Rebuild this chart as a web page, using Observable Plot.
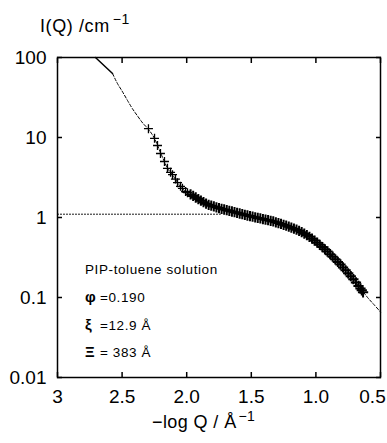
<!DOCTYPE html>
<html><head><meta charset="utf-8">
<script src="https://cdn.jsdelivr.net/npm/d3@7"></script>
<script src="https://cdn.jsdelivr.net/npm/@observablehq/plot@0.6"></script>
<style>
body{margin:0;background:#fff;}
#chart svg{font-family:"Liberation Sans",Arial,sans-serif;}
</style>
</head><body><div id="chart"></div>
<script>
// Axis ticks
const xTicks = [3, 2.5, 2.0, 1.5, 1.0, 0.5];
const xTickLabels = ["3", "2.5", "2.0", "1.5", "1.0", "0.5"];
const yTicks = [100, 10, 1, 0.1, 0.01];
const yTickLabels = ["100", "10", "1", "0.1", "0.01"];

// Fitted curve: solid part (low Q) then dashed part (x = -log Q, logI = log10 I)
const solidX = [2.706, 2.64, 2.574];
const solidLogI = [2.0, 1.90, 1.80];
const fitX = [2.574, 2.536, 2.50, 2.458, 2.42, 2.381, 2.34, 2.30, 2.25, 2.20, 2.15, 2.10, 2.05, 2.00, 1.95, 1.90, 1.85, 1.80, 1.75, 1.70, 1.65, 1.60, 1.55, 1.50, 1.45, 1.40, 1.35, 1.30, 1.25, 1.20, 1.15, 1.10, 1.05, 1.00, 0.95, 0.90, 0.85, 0.80, 0.75, 0.70, 0.65, 0.60, 0.55, 0.50];
const fitLogI = [1.80, 1.675, 1.58, 1.4625, 1.36, 1.27, 1.18, 1.11, 0.99, 0.80, 0.62, 0.51, 0.39, 0.315, 0.27, 0.22, 0.173, 0.143, 0.118, 0.096, 0.075, 0.054, 0.033, 0.014, -0.005, -0.023, -0.042, -0.065, -0.092, -0.121, -0.153, -0.192, -0.242, -0.302, -0.369, -0.442, -0.523, -0.606, -0.697, -0.79, -0.895, -1.00, -1.09, -1.18];

// Dotted plateau line
const plateauX = [3, 1.74];
const plateauI = [1.1, 1.1];

// Measured data (crosses): sparse low-Q points, then the dense band
const sparseX = [2.296, 2.249, 2.226, 2.203, 2.172, 2.149, 2.125, 2.110, 2.087, 2.071, 2.048, 2.033, 2.009, 1.994];
const sparseLogI = [1.11, 0.99, 0.90, 0.80, 0.70, 0.615, 0.565, 0.535, 0.48, 0.435, 0.39, 0.365, 0.325, 0.31];
const denseX = [1.97, 1.95, 1.93, 1.91, 1.89, 1.87, 1.85, 1.83, 1.81, 1.79, 1.77, 1.75, 1.73, 1.71, 1.69, 1.67, 1.65, 1.63, 1.61, 1.59, 1.57, 1.55, 1.53, 1.51, 1.49, 1.47, 1.45, 1.43, 1.41, 1.39, 1.37, 1.35, 1.33, 1.31, 1.29, 1.27, 1.25, 1.23, 1.21, 1.19, 1.17, 1.15, 1.13, 1.11, 1.09, 1.07, 1.05, 1.03, 1.01, 0.99, 0.97, 0.95, 0.93, 0.91, 0.89, 0.87, 0.85, 0.83, 0.81, 0.79, 0.77, 0.75, 0.73, 0.71, 0.69, 0.67, 0.655, 0.645, 0.635];
const denseLogI = [0.289, 0.270, 0.250, 0.230, 0.210, 0.191, 0.173, 0.158, 0.148, 0.138, 0.128, 0.118, 0.109, 0.100, 0.092, 0.083, 0.075, 0.066, 0.058, 0.050, 0.042, 0.033, 0.025, 0.018, 0.010, 0.003, -0.005, -0.012, -0.019, -0.027, -0.034, -0.042, -0.049, -0.060, -0.070, -0.081, -0.092, -0.103, -0.115, -0.127, -0.140, -0.153, -0.167, -0.183, -0.202, -0.220, -0.242, -0.265, -0.289, -0.315, -0.342, -0.369, -0.397, -0.425, -0.458, -0.490, -0.523, -0.555, -0.5875, -0.624, -0.660, -0.697, -0.734, -0.771, -0.811, -0.855, -0.8875, -0.91, -0.935];

// Texts
const yTitle = ["I(Q) /cm", "\u22121"];
const xTitle = ["\u2212log Q / \u00C5", "\u22121"];
const noteLines = [
  ["", "PIP-toluene solution"],
  ["\u03C6", "=0.190"],
  ["\u03BE", "=12.9 \u00C5"],
  ["\u039E", "= 383 \u00C5"]
];

const solid = solidX.map((x, i) => ({x, I: 10 ** solidLogI[i]}));
const fit = fitX.map((x, i) => ({x, I: 10 ** fitLogI[i]}));
const plateau = plateauX.map((x, i) => ({x, I: plateauI[i]}));
const sparse = sparseX.map((x, i) => ({x, I: 10 ** sparseLogI[i]}));
const dense = denseX.map((x, i) => ({x, I: 10 ** denseLogI[i]}));

const xFmt = d => xTickLabels[xTicks.indexOf(d)];
const chart = Plot.plot({
  width: 387, height: 443,
  marginLeft: 57, marginRight: 7, marginTop: 57, marginBottom: 66,
  x: {domain: [3, 0.5], type: "linear"},
  y: {type: "log", domain: [0.01, 100]},
  style: {fontFamily: "'Liberation Sans', Arial, sans-serif", fontSize: "19px", color: "black", background: "white"},
  marks: [
    Plot.line(plateau, {x: "x", y: "I", stroke: "black", strokeWidth: 1, strokeDasharray: "1,2"}),
    Plot.line(fit, {x: "x", y: "I", stroke: "black", strokeWidth: 1, strokeDasharray: "3,2", curve: "monotone-x"}),
    Plot.line(solid, {x: "x", y: "I", stroke: "black", strokeWidth: 1.5}),
    Plot.dot(sparse, {x: "x", y: "I", symbol: "plus", r: 3, stroke: "black", strokeWidth: 1.3}),
    Plot.dot(dense, {x: "x", y: "I", symbol: "plus", r: 3.4, stroke: "black", strokeWidth: 2}),
    Plot.axisX(xTicks, {anchor: "bottom", tickSize: -5, tickPadding: 17, label: null, strokeWidth: 1.5, text: null}),
    Plot.axisX(xTicks.slice(0, 5), {anchor: "bottom", tickSize: 0, tickPadding: 12, label: null, tickFormat: xFmt, fontSize: 19}),
    Plot.axisX(xTicks.slice(5), {anchor: "bottom", tickSize: 0, tickPadding: 12, label: null, tickFormat: xFmt, fontSize: 19, dx: -8}),
    Plot.axisX(xTicks, {anchor: "top", tickSize: -5, label: null, strokeWidth: 1.5, tickFormat: () => ""}),
    Plot.axisY(yTicks, {anchor: "left", tickSize: -5, tickPadding: 16, label: null, strokeWidth: 1.5,
      tickFormat: d => yTickLabels[yTicks.indexOf(d)], fontSize: 19}),
    Plot.axisY(yTicks, {anchor: "right", tickSize: -5, label: null, strokeWidth: 1.5, tickFormat: () => ""}),
    Plot.frame({stroke: "black", strokeWidth: 1.5})
  ]
});
document.getElementById("chart").appendChild(chart);

const svg = d3.select(chart);
// y-axis title
const yt = svg.append("text").attr("text-anchor", "start").attr("x", 40).attr("y", 32).attr("font-size", 18).attr("letter-spacing", 0.6).attr("fill", "black");
yt.append("tspan").text(yTitle[0]);
yt.append("tspan").attr("dx", 3).attr("dy", -8).attr("font-size", 14).text(yTitle[1]);
// x-axis title
const xt = svg.append("text").attr("text-anchor", "start").attr("x", 152).attr("y", 428).attr("font-size", 18).attr("letter-spacing", 0.4).attr("fill", "black");
xt.append("tspan").text(xTitle[0]);
xt.append("tspan").attr("dx", 2).attr("dy", -7).attr("font-size", 14).text(xTitle[1]);
// annotation
const baselines = [274, 302, 330, 357];
noteLines.forEach((ln, i) => {
  const t = svg.append("text").attr("text-anchor", "start").attr("x", 85).attr("y", baselines[i]).attr("font-size", 13.5).attr("letter-spacing", 0.6).attr("fill", "black");
  if (ln[0]) {
    t.append("tspan").attr("font-weight", "bold").attr("font-size", 15).text(ln[0]);
    t.append("tspan").attr("x", 100).text(ln[1]);
  } else {
    t.append("tspan").text(ln[1]);
  }
});
</script>
</body></html>
